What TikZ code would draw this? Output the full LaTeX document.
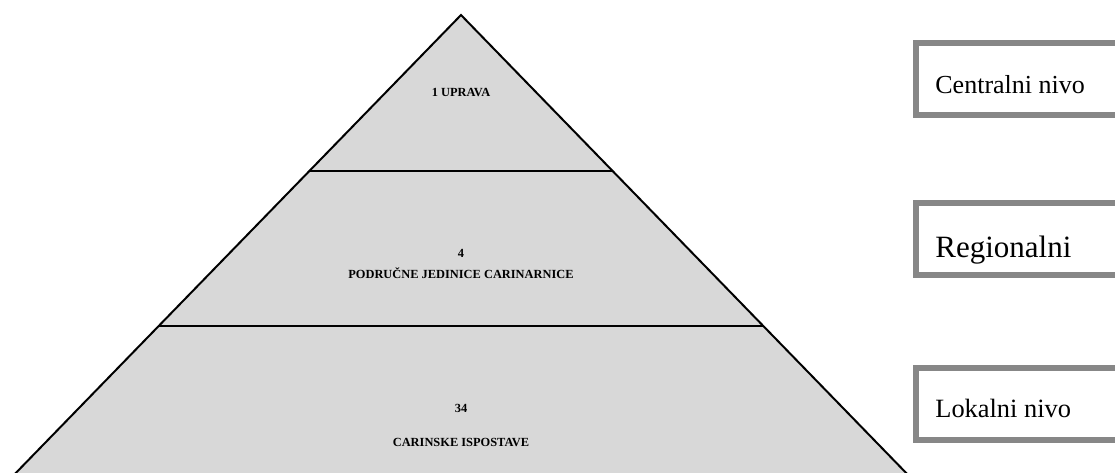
\documentclass[tikz,border=0pt]{standalone}
\usepackage{fontspec}
\setmainfont{Liberation Serif}
\usetikzlibrary{positioning}
\definecolor{pyrfill}{RGB}{216,216,216}
\definecolor{boxgray}{RGB}{135,135,135}

\begin{document}
\begin{tikzpicture}[x=0.5pt,y=-0.5pt,
  pyrtext/.style={font=\fontsize{6.2}{7}\selectfont\bfseries, inner sep=1pt},
  divider/.style={line width=1.3pt},
  lvlbox/.style={draw=boxgray, line width=3pt, anchor=north west,
                 minimum width=108pt, minimum height=36pt},
  lvltext/.style={anchor=base west, inner sep=0pt}
]
\useasboundingbox (0,0) rectangle (1115,472);
% pyramid
\coordinate (apex) at (461,15);
\coordinate (bl) at (9,480);
\coordinate (br) at (913,480);
\fill[pyrfill] (apex) -- (bl) -- (br) -- cycle;
\draw[line width=1pt] (bl) -- (apex) -- (br);
\draw[divider] (309,171) -- (613,171);
\draw[divider] (159,326) -- (763,326);
% level texts
\node[pyrtext] (uprava) at (461,92) {1 UPRAVA};
\node[pyrtext] (n4) at (461,253) {4};
\node[pyrtext] (podrucne) at (461,273) {PODRUČNE JEDINICE CARINARNICE};
\node[pyrtext] (n34) at (461,408) {34};
\node[pyrtext] (ispostave) at (461,442) {CARINSKE ISPOSTAVE};
% side boxes
\node[lvlbox] (boxc) at (913,40) {};
\node[lvlbox] (boxr) at (913,200) {};
\node[lvlbox] (boxl) at (913,365) {};
\node[lvltext, font=\fontsize{13}{15}\selectfont] (central) at (935,93) {Centralni nivo};
\node[lvltext, font=\fontsize{15.5}{18}\selectfont] (regional) at (935,257) {Regionalni};
\node[lvltext, font=\fontsize{13.2}{15}\selectfont] (lokal) at (935,417) {Lokalni nivo};
\end{tikzpicture}
\end{document}
